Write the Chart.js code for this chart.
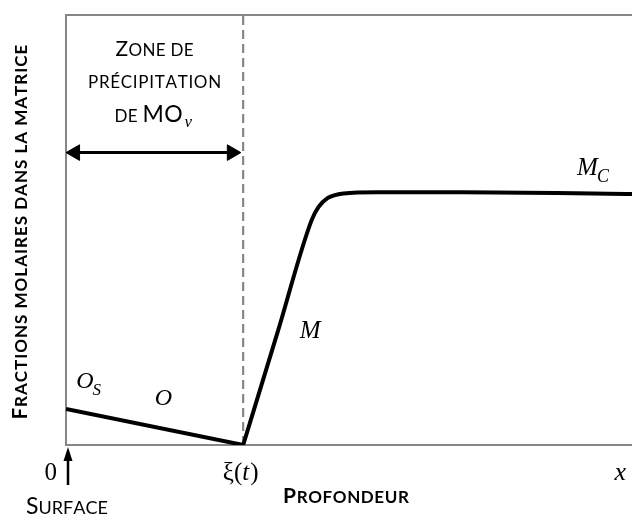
<!DOCTYPE html>
<html>
<head>
<meta charset="utf-8">
<script src="https://cdn.jsdelivr.net/npm/chart.js@4.4.1/dist/chart.umd.min.js"></script>
<style>
  body { margin: 0; background: #fff; }
  canvas { display: block; }
</style>
</head>
<body>
<canvas id="profil" width="632" height="515"></canvas>
<script>
// profondeur (x) et fractions molaires (y), en % de chaque axe
var xiPos = 31.3;
var oxygenX = [0, 31.3];
var oxygenY = [8.4, 0];
var metalX = [31.3, 37.4, 43.4, 44.6, 46.2, 49.0, 55, 70, 100];
var metalY = [0, 26.3, 52.3, 55.3, 57.4, 58.5, 58.8, 58.8, 58.4];
var dashX = [xiPos, xiPos];
var dashY = [0, 100];
var zoneArrowX = [1.6, 29.3];
var zoneArrowY = [68, 68];

var zoneLines = ['Zone de', 'précipitation', 'de MO'];

function pts(xs, ys) {
    return xs.map(function (x, i) { return { x: x, y: ys[i] }; });
}

var gray = '#878787';
var serif = "'Liberation Serif', serif";

// petites capitales : majuscules en taille pleine, le reste en majuscules réduites
function smallCaps(ctx, text, x, y, full, small, weight, align, track, dry) {
    track = track || 0;
    var chars = [];
    var total = 0;
    for (var i = 0; i < text.length; i++) {
        var ch = text[i];
        var big = ch !== ch.toLowerCase();
        var f = weight + ' ' + (big ? full : small) + 'px Lato';
        ctx.font = f;
        var w = ctx.measureText(ch.toUpperCase()).width;
        chars.push({ c: ch.toUpperCase(), f: f, w: w });
        total += w + (i < text.length - 1 ? track : 0);
    }
    if (dry) return total;
    var sx = align === 'center' ? x - total / 2 : x;
    ctx.textAlign = 'left';
    chars.forEach(function (c) {
        ctx.font = c.f;
        ctx.fillText(c.c, sx, y);
        sx += c.w + track;
    });
    return total;
}

function mathText(ctx, main, sub, px, py, size) {
    ctx.font = 'italic ' + size + 'px ' + serif;
    ctx.textAlign = 'left';
    ctx.fillText(main, px, py);
    if (sub) {
        var w = ctx.measureText(main).width;
        ctx.font = 'italic ' + Math.round(size * 0.72) + 'px ' + serif;
        ctx.fillText(sub, px + w - 1, py + 7);
    }
}

var labelsPlugin = {
    id: 'labels',
    afterDraw: function (chart) {
        var ctx = chart.ctx;
        var xs = chart.scales.x, ys = chart.scales.y;
        var area = chart.chartArea;
        var x0 = xs.getPixelForValue(0), xXi = xs.getPixelForValue(xiPos);
        var mid = (x0 + xXi) / 2;
        ctx.save();
        ctx.fillStyle = '#000';
        ctx.strokeStyle = '#000';
        ctx.textBaseline = 'alphabetic';

        // zone de précipitation
        smallCaps(ctx, zoneLines[0], mid, 56, 21, 17, 'normal', 'center', 0.3);
        smallCaps(ctx, zoneLines[1], mid, 88, 21, 17, 'normal', 'center', 0.7);
        var wDe = smallCaps(ctx, zoneLines[2], 0, 0, 23, 17, 'normal', 'left', 0.3, true);
        var sx = mid - (wDe + 12) / 2;
        smallCaps(ctx, zoneLines[2], sx, 122, 23, 17, 'normal', 'left', 0.3);
        ctx.font = 'italic 17px ' + serif;
        ctx.fillText('v', sx + wDe + 2, 127);

        // noms des courbes
        mathText(ctx, 'O', 'S', xs.getPixelForValue(1.8), ys.getPixelForValue(13.3), 24);
        mathText(ctx, 'O', '', xs.getPixelForValue(15.7), ys.getPixelForValue(9.3), 24);
        mathText(ctx, 'M', '', xs.getPixelForValue(41.3), ys.getPixelForValue(24.9), 25);
        mathText(ctx, 'M', 'C', xs.getPixelForValue(90.3), ys.getPixelForValue(62.8), 25);

        // repères sous l'axe
        var base = area.bottom + 35;
        ctx.font = '25px ' + serif;
        ctx.textAlign = 'right';
        ctx.fillText('0', x0 - 9, base);
        ctx.textAlign = 'left';
        var p1 = 'ξ(', p2 = 't', p3 = ')';
        var w1 = ctx.measureText(p1).width, w3 = ctx.measureText(p3).width;
        ctx.font = 'italic 25px ' + serif;
        var w2 = ctx.measureText(p2).width;
        var tx = xXi - 3 - (w1 + w2 + w3) / 2;
        ctx.font = '25px ' + serif;
        ctx.fillText(p1, tx, base);
        ctx.font = 'italic 25px ' + serif;
        ctx.fillText(p2, tx + w1, base);
        ctx.font = '25px ' + serif;
        ctx.fillText(p3, tx + w1 + w2 + 1, base);
        mathText(ctx, 'x', '', xs.getPixelForValue(96.9), base, 26);

        // flèche de la surface
        var ax = x0 + 2;
        ctx.lineWidth = 2.5;
        ctx.beginPath();
        ctx.moveTo(ax, area.bottom + 40);
        ctx.lineTo(ax, area.bottom + 12);
        ctx.stroke();
        ctx.beginPath();
        ctx.moveTo(ax, area.bottom + 2);
        ctx.lineTo(ax - 4.5, area.bottom + 16);
        ctx.lineTo(ax + 4.5, area.bottom + 16);
        ctx.closePath();
        ctx.fill();

        // titres des axes
        smallCaps(ctx, 'Surface', x0 + 1, 514, 23, 18, 'normal', 'center');
        smallCaps(ctx, 'Profondeur', 346, 503, 21, 17, 'bold', 'center', 0.6);
        ctx.translate(27, (area.top + area.bottom) / 2 + 2);
        ctx.rotate(-Math.PI / 2);
        smallCaps(ctx, 'Fractions molaires dans la matrice', 0, 0, 20, 17, 'bold', 'center', 1.0);
        ctx.restore();
    }
};

var axisOpts = {
    type: 'linear',
    min: 0,
    max: 100,
    ticks: { display: false },
    grid: { display: false, drawTicks: false },
    border: { color: gray, width: 2 }
};

var canvas = document.getElementById('profil');
var profil = new Chart(canvas, {
    type: 'line',
    data: {
        datasets: [{
            label: 'O',
            data: pts(oxygenX, oxygenY),
            borderColor: '#000',
            borderWidth: 4,
            pointRadius: 0,
            tension: 0
        }, {
            label: 'M',
            data: pts(metalX, metalY),
            borderColor: '#000',
            borderWidth: 4,
            pointRadius: 0,
            cubicInterpolationMode: 'monotone'
        }, {
            label: 'zone',
            data: pts(zoneArrowX, zoneArrowY),
            borderColor: '#000',
            backgroundColor: '#000',
            borderWidth: 3,
            pointStyle: 'triangle',
            pointRadius: 9,
            pointBorderWidth: 1,
            pointRotation: [-90, 90],
            tension: 0
        }, {
            label: 'xi',
            data: pts(dashX, dashY),
            borderColor: gray,
            borderWidth: 2.2,
            borderDash: [9, 5],
            pointRadius: 0,
            tension: 0
        }]
    },
    options: {
        responsive: false,
        animation: false,
        devicePixelRatio: 1,
        layout: {
            autoPadding: false,
            padding: { left: 66, top: 15, right: 0, bottom: 70 }
        },
        plugins: {
            legend: { display: false },
            tooltip: { enabled: false }
        },
        scales: {
            x: Object.assign({}, axisOpts),
            x2: Object.assign({ position: 'top' }, axisOpts),
            y: Object.assign({}, axisOpts)
        }
    },
    plugins: [labelsPlugin]
});
</script>
</body>
</html>
